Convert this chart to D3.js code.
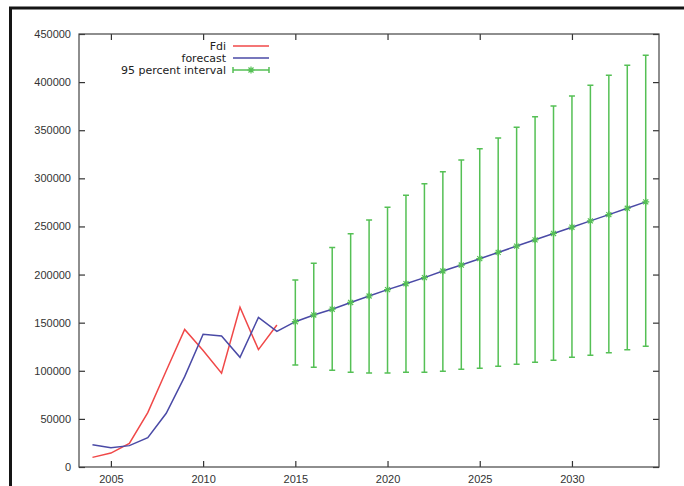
<!DOCTYPE html>
<html>
<head>
<meta charset="utf-8">
<script src="https://cdn.jsdelivr.net/npm/d3@7"></script>
<style>
  body { margin: 0; background: #fff; }
  svg { display: block; font-family: "DejaVu Sans", Verdana, sans-serif; }
  .tick text { fill: #333; font-size: 11px; }
  .tick line { stroke: #333; stroke-width: 1.2; }
  .legend text { fill: #222; font-size: 11px; }
</style>
</head>
<body>
<div id="chart"></div>
<script>
// observed series, 2004 - 2014
const histYears = [2004, 2005, 2006, 2007, 2008, 2009, 2010, 2011, 2012, 2013, 2014];
const fdi = [10000, 14500, 24500, 56500, 100000, 143000, 121000, 97500, 166000, 122000, 147500];
const fitted = [23200, 20100, 22200, 30500, 55800, 93900, 137900, 136100, 114000, 155400, 141000];

// forecast with 95 percent interval, 2015 - 2034
const fcYears = [2015, 2016, 2017, 2018, 2019, 2020, 2021, 2022, 2023, 2024,
                 2025, 2026, 2027, 2028, 2029, 2030, 2031, 2032, 2033, 2034];
const forecast = [151000, 158000, 164000, 171000, 177700, 184300, 190500, 196800, 203700, 209900,
                  216500, 223000, 229600, 236100, 242700, 249200, 255800, 262300, 268900, 275500];
const upper = [194300, 211700, 228000, 242500, 256700, 269900, 282400, 294500, 306900, 319100,
               330700, 341900, 353000, 364100, 375200, 385600, 396700, 407100, 417500, 427900];
const lower = [106000, 103600, 100500, 98400, 97700, 97700, 98400, 98400, 99500, 101500,
               102600, 104600, 106700, 108800, 110900, 114000, 116100, 118800, 121900, 125400];

const xTicks = [2005, 2010, 2015, 2020, 2025, 2030];
const yTicks = [0, 50000, 100000, 150000, 200000, 250000, 300000, 350000, 400000, 450000];
const legendLabels = ["Fdi", "forecast", "95 percent interval"];

const colors = {fdi: "#f04848", forecast: "#4a4aa6", interval: "#55c055"};

const width = 684, height = 486;
const plot = {left: 79, top: 34, right: 659, bottom: 467};

const svg = d3.select("#chart").append("svg")
    .attr("width", width)
    .attr("height", height);

// outer frame (cropped screenshot border)
svg.append("rect")
    .attr("x", 10.5).attr("y", 8)
    .attr("width", 700).attr("height", 500)
    .attr("fill", "none")
    .attr("stroke", "#151515")
    .attr("stroke-width", 3);

const x = d3.scaleLinear().domain([2003.27, 2034.72]).range([plot.left, plot.right]);
const y = d3.scaleLinear().domain([0, 450000]).range([plot.bottom, plot.top]);

// axes, ticks pointing inwards like gnuplot
const xAxis = svg.append("g")
    .attr("transform", "translate(0," + plot.bottom + ")")
    .call(d3.axisBottom(x).tickValues(xTicks).tickFormat(d3.format("d")).tickSize(-6).tickPadding(8.5));
const xTop = svg.append("g")
    .attr("transform", "translate(0," + plot.top + ")")
    .call(d3.axisTop(x).tickValues(xTicks).tickFormat("").tickSize(-6));
const yAxis = svg.append("g")
    .attr("transform", "translate(" + plot.left + ",0)")
    .call(d3.axisLeft(y).tickValues(yTicks).tickFormat(d3.format("d")).tickSize(-6).tickPadding(8));
const yRight = svg.append("g")
    .attr("transform", "translate(" + plot.right + ",0)")
    .call(d3.axisRight(y).tickValues(yTicks).tickFormat("").tickSize(-6));

[xAxis, xTop, yAxis, yRight].forEach(g => g.select(".domain").remove());
svg.selectAll(".tick text").attr("font-family", null).attr("font-size", null);

// plot border
svg.append("rect")
    .attr("x", plot.left).attr("y", plot.top)
    .attr("width", plot.right - plot.left)
    .attr("height", plot.bottom - plot.top)
    .attr("fill", "none")
    .attr("stroke", "#444")
    .attr("stroke-width", 1.2);

const line = d3.line().x(d => x(d[0])).y(d => y(d[1]));

// Fdi
svg.append("path")
    .datum(histYears.map((yr, i) => [yr, fdi[i]]))
    .attr("d", line)
    .attr("fill", "none")
    .attr("stroke", colors.fdi)
    .attr("stroke-width", 1.5);

// forecast (fitted + projected)
const fcLine = histYears.map((yr, i) => [yr, fitted[i]])
    .concat(fcYears.map((yr, i) => [yr, forecast[i]]));
svg.append("path")
    .datum(fcLine)
    .attr("d", line)
    .attr("fill", "none")
    .attr("stroke", colors.forecast)
    .attr("stroke-width", 1.5);

// asterisk point, gnuplot pt 3
function star(cx, cy, r) {
    const d = r * 0.72;
    return "M" + (cx - r) + "," + cy + "h" + (2 * r) +
           "M" + cx + "," + (cy - r) + "v" + (2 * r) +
           "M" + (cx - d) + "," + (cy - d) + "l" + (2 * d) + "," + (2 * d) +
           "M" + (cx - d) + "," + (cy + d) + "l" + (2 * d) + "," + (-2 * d);
}

// error bars
const bars = fcYears.map((yr, i) => ({year: yr, mid: forecast[i], lo: lower[i], hi: upper[i]}));
const capW = 3;
const eb = svg.append("g")
    .attr("stroke", colors.interval)
    .attr("stroke-width", 1.5)
    .attr("fill", "none");
eb.selectAll("path.bar")
    .data(bars)
    .join("path")
    .attr("class", "bar")
    .attr("d", d => {
        const cx = x(d.year), y0 = y(d.lo), y1 = y(d.hi);
        return "M" + cx + "," + y0 + "V" + y1 +
               "M" + (cx - capW) + "," + y0 + "h" + (2 * capW) +
               "M" + (cx - capW) + "," + y1 + "h" + (2 * capW);
    });
eb.selectAll("path.pt")
    .data(bars)
    .join("path")
    .attr("class", "pt")
    .attr("stroke-width", 1.2)
    .attr("d", d => star(x(d.year), y(d.mid), 3.5));

// legend
const legend = svg.append("g").attr("class", "legend");
const legX = 226, legY = 46, legStep = 12, sampleX0 = 233, sampleX1 = 269;
legendLabels.forEach((label, i) => {
    const ly = legY + i * legStep;
    legend.append("text")
        .attr("x", legX).attr("y", ly)
        .attr("dy", "0.35em")
        .attr("text-anchor", "end")
        .text(label);
    if (i < 2) {
        legend.append("line")
            .attr("x1", sampleX0).attr("x2", sampleX1)
            .attr("y1", ly).attr("y2", ly)
            .attr("stroke", i === 0 ? colors.fdi : colors.forecast)
            .attr("stroke-width", 1.5);
    } else {
        const mx = (sampleX0 + sampleX1) / 2;
        legend.append("path")
            .attr("d", "M" + sampleX0 + "," + ly + "H" + sampleX1 +
                       "M" + sampleX0 + "," + (ly - capW) + "v" + (2 * capW) +
                       "M" + sampleX1 + "," + (ly - capW) + "v" + (2 * capW))
            .attr("stroke", colors.interval)
            .attr("stroke-width", 1.5)
            .attr("fill", "none");
        legend.append("path")
            .attr("d", star(mx, ly, 3.5))
            .attr("stroke", colors.interval)
            .attr("stroke-width", 1.2);
    }
});
</script>
</body>
</html>
